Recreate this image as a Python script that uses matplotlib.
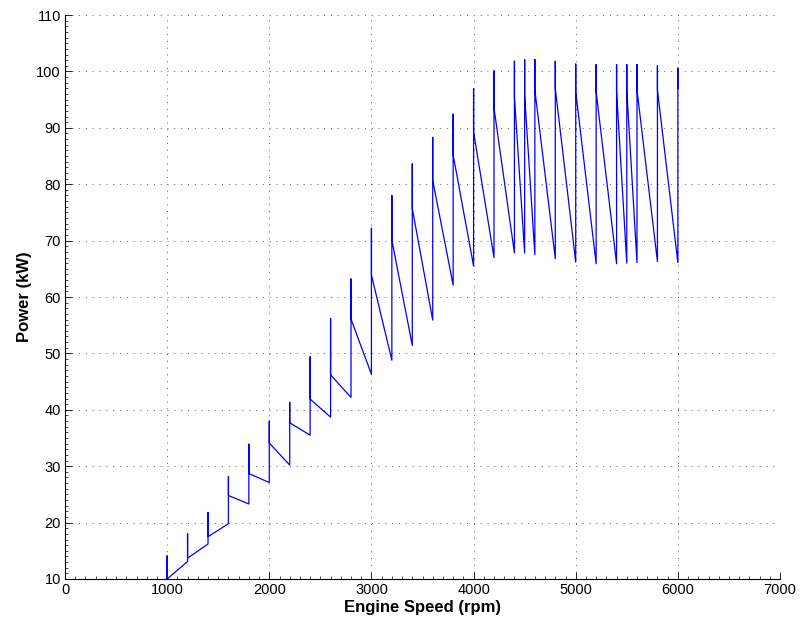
import matplotlib
matplotlib.use('Agg')
import matplotlib.pyplot as plt
from matplotlib.ticker import MultipleLocator

# shift points (rpm) and power readings (kW) at each one
shift_rpm = [1000, 1200, 1400, 1600, 1800, 2000, 2200, 2400, 2600, 2800,
             3000, 3200, 3400, 3600, 3800, 4000, 4200, 4400, 4500, 4600,
             4800, 5000, 5200, 5400, 5500, 5600, 5800, 6000]
# power reached when arriving at the shift point
arrive_kw = [10.0, 13.1, 16.2, 19.8, 23.3, 27.1, 30.2, 35.5, 38.7, 42.2,
             46.3, 48.8, 51.4, 55.9, 62.1, 65.5, 67.0, 67.8, 67.8, 67.5,
             66.8, 66.2, 65.9, 65.9, 66.0, 66.1, 66.3, 66.1]
# peak of the spike at the shift point
peak_kw = [14.1, 18.0, 21.8, 28.1, 33.9, 38.0, 41.3, 49.4, 56.2, 63.2,
           72.2, 78.0, 83.6, 88.3, 92.4, 96.9, 100.1, 101.8, 102.1, 102.1,
           101.8, 101.3, 101.2, 101.2, 101.2, 101.2, 101.0, 100.6]
# power where the next segment starts
depart_kw = [10.0, 13.7, 17.5, 24.8, 28.7, 34.1, 37.7, 41.9, 46.2, 56.1,
             63.9, 70.1, 75.7, 80.7, 85.2, 89.3, 93.5, 95.5, 95.8, 96.7,
             97.0, 96.4, 96.4, 96.5, 96.6, 96.7, 96.7, 97.0]

rpm = []
power = []
for x, a, p, d in zip(shift_rpm, arrive_kw, peak_kw, depart_kw):
    rpm += [x, x, x]
    power += [a, p, d]

plt.rcParams['font.family'] = ['Liberation Sans', 'DejaVu Sans']
fig = plt.figure(figsize=(8, 6.26), dpi=100)
ax = fig.add_axes([0.08125, 0.0751, 0.89375, 0.9009])
ax.plot(rpm, power, color=(0, 0, 1), lw=0.9)

ax.set_xlim(0, 7000)
ax.set_ylim(10, 110)
ax.xaxis.set_major_locator(MultipleLocator(1000))
ax.yaxis.set_major_locator(MultipleLocator(10))
ax.xaxis.set_minor_locator(MultipleLocator(100))
ax.yaxis.set_minor_locator(MultipleLocator(1))
ax.tick_params(which='major', direction='in', length=5, width=0.6, labelsize=10.5, pad=3)
ax.tick_params(which='minor', direction='in', length=2, width=0.5)
ax.spines['top'].set_visible(False)
ax.spines['right'].set_visible(False)
ax.grid(True, which='major', linestyle=(0, (1, 6)), color='0.35', lw=0.7)

ax.set_xlabel('Engine Speed (rpm)', fontsize=12, fontweight='bold', labelpad=2)
ax.set_ylabel('Power (kW)', fontsize=12, fontweight='bold', labelpad=3)

fig.savefig('out.png', dpi=100)
